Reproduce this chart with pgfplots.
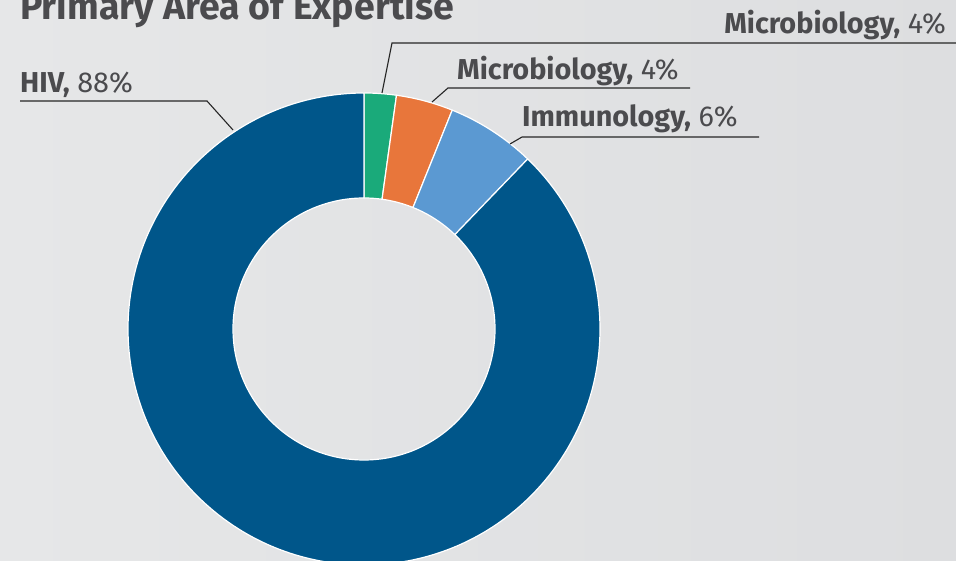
\documentclass[border=0pt]{standalone}
\usepackage{pgfplots}
\pgfplotsset{compat=1.18}
\usepackage{pgfplotstable}
\usepackage{fontspec}
\setmainfont{Fira Sans}
\definecolor{cgreen}{HTML}{1AAA7A}
\definecolor{corange}{HTML}{E8763B}
\definecolor{clight}{HTML}{5B99D2}
\definecolor{cdark}{HTML}{00568A}
\definecolor{ctext}{HTML}{4B4B4E}
\definecolor{bgl}{HTML}{E6E7E8}
\definecolor{bgr}{HTML}{DDDEE0}
\pgfplotstableread{
label value color
Microbiology 2.2 cgreen
Microbiology 3.9 corange
Immunology 6.1 clight
HIV 87.8 cdark
}\slices
\begin{document}
\begin{tikzpicture}
\clip (0,0) rectangle (956pt,561pt);
\shade[left color=bgl, right color=bgr] (0,0) rectangle (956pt,561pt);
\begin{axis}[
  x=1pt, y=1pt, scale only axis, hide axis, disabledatascaling,
  xmin=0, xmax=956, ymin=0, ymax=561, clip=false,
  at={(0,0)}, anchor=origin,
]
\def\angstart{90}
\pgfplotsforeachungrouped \i in {0,...,3}{%
  \pgfplotstablegetelem{\i}{value}\of\slices \let\v\pgfplotsretval
  \pgfplotstablegetelem{\i}{color}\of\slices \let\c\pgfplotsretval
  \pgfmathsetmacro{\angend}{\angstart-3.6*\v}%
  \edef\temp{\noexpand\fill[\c, draw=white, line width=1.2pt, line join=round]
    (axis cs:364,232) ++(\angstart:236pt) arc[start angle=\angstart, end angle=\angend, radius=236pt]
    -- ([shift={(\angend:131pt)}]axis cs:364,232)
    arc[start angle=\angend, end angle=\angstart, radius=131pt] -- cycle;}%
  \temp
  \global\let\angstart\angend
}
% leader lines
\draw[black!85, line width=1.1pt] (axis cs:20,460) -- (axis cs:207,460) -- (axis cs:233,431);
\draw[black!85, line width=1.1pt] (axis cs:956,518) -- (axis cs:392,518) -- (axis cs:382,468);
\draw[black!85, line width=1.1pt] (axis cs:690,473) -- (axis cs:448,473) -- (axis cs:432,459);
\draw[black!85, line width=1.1pt] (axis cs:759,424) -- (axis cs:522,424) -- (axis cs:510,417);
% labels
\node[anchor=base west, inner sep=0, text=ctext, font=\fontsize{37.5}{40}\selectfont\bfseries] at (axis cs:20,541.5) {Primary Area of Expertise};
\node[anchor=base west, inner sep=0, text=ctext, font=\fontsize{28.8}{31}\selectfont] at (axis cs:20,468) {\textbf{HIV,} 88\%};
\node[anchor=base east, inner sep=0, text=ctext, font=\fontsize{28.8}{31}\selectfont] at (axis cs:946,527) {\textbf{Microbiology,} 4\%};
\node[anchor=base west, inner sep=0, text=ctext, font=\fontsize{28.8}{31}\selectfont] at (axis cs:457,481) {\textbf{Microbiology,} 4\%};
\node[anchor=base west, inner sep=0, text=ctext, font=\fontsize{28.8}{31}\selectfont] at (axis cs:522,434) {\textbf{Immunology,} 6\%};
\end{axis}
\end{tikzpicture}
\end{document}
